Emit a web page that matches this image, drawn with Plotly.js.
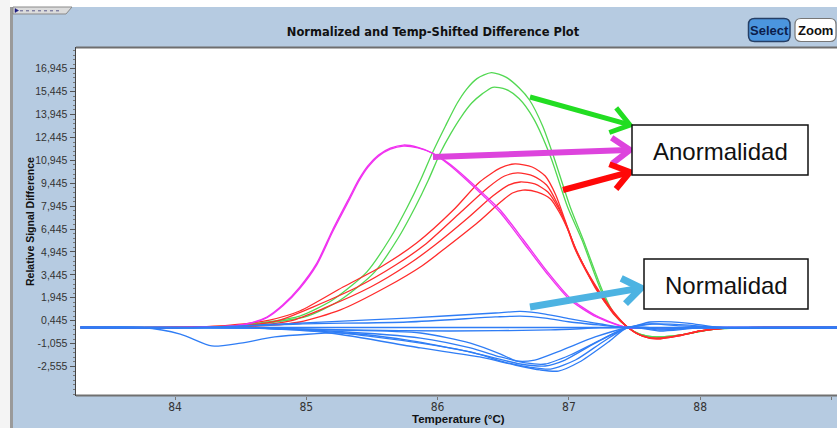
<!DOCTYPE html>
<html>
<head>
<meta charset="utf-8">
<script src="https://cdn.plot.ly/plotly-3.0.1.min.js"></script>
<style>html,body{margin:0;padding:0;background:#fff;}#chart{width:837px;height:428px;}</style>
</head>
<body>
<div id="chart"></div>
<script>
// ---- data (temperature °C, relative signal difference) ----
const greenT1 = [83.28,84.00,84.42,84.70,84.95,85.20,85.46,85.64,85.77,85.87,85.96,86.06,86.15,86.22,86.30,86.41,86.52,86.62,86.70,86.80,86.88,87.01,87.11,87.26,87.35,87.45,87.54,87.67,87.85,88.07,88.30,89.06];
const greenS1 = [0,0,0.10,0.36,0.75,1.80,3.63,5.86,7.89,9.66,11.43,13.20,14.70,15.60,16.30,16.69,16.40,15.70,14.90,13.20,11.30,7.89,5.73,2.32,0.82,0,-0.43,-0.62,-0.49,-0.16,-0.03,0];
const greenT2 = [83.28,84.00,84.50,84.76,85.01,85.26,85.52,85.70,85.83,85.93,86.02,86.10,86.18,86.26,86.34,86.42,86.52,86.62,86.73,86.86,86.99,87.10,87.25,87.35,87.45,87.54,87.67,87.85,88.07,88.30,89.06];
const greenS2 = [0,0,0.10,0.36,0.75,1.80,3.63,5.86,7.89,9.66,11.43,12.70,13.80,14.70,15.30,15.73,15.60,15.00,13.70,11.20,7.89,5.73,2.32,0.82,0,-0.43,-0.62,-0.49,-0.16,-0.03,0];

const magT = [83.28,84.00,84.44,84.57,84.70,84.82,84.95,85.08,85.20,85.33,85.40,85.47,85.55,85.64,85.74,85.85,85.96,86.09,86.22,86.35,86.48,86.65,86.83,87.01,87.21,87.44,87.69,88.00,89.06];
const magS1 = [0,0,0.10,0.29,0.69,1.47,2.65,4.22,6.39,8.55,9.70,10.60,11.30,11.75,11.95,11.80,11.43,10.64,9.66,8.61,7.50,5.60,3.57,1.80,0.69,0,-0.03,0,0];
const magS2 = [0,0,0.10,0.27,0.64,1.40,2.55,4.10,6.25,8.40,9.58,10.50,11.22,11.68,11.88,11.76,11.42,10.72,9.78,8.75,7.66,5.78,3.72,1.92,0.76,0,-0.03,0,0];

const redT1 = [83.28,84.00,84.42,84.72,84.95,85.28,85.58,85.84,86.12,86.32,86.48,86.59,86.72,86.82,86.90,86.97,87.04,87.13,87.21,87.34,87.45,87.54,87.66,87.81,88.00,88.23,89.06];
const redS1 = [0,0,0.16,0.49,1.08,2.65,4.03,5.53,7.69,9.53,10.45,10.71,10.51,9.92,8.68,7.04,5.40,3.77,2.46,0.95,0,-0.49,-0.69,-0.56,-0.23,-0.03,0];
const redT2 = [83.28,84.00,84.50,84.80,85.05,85.39,85.68,85.90,86.17,86.38,86.51,86.61,86.73,86.83,86.91,86.98,87.04,87.13,87.22,87.34,87.45,87.54,87.66,87.81,88.00,88.23,89.06];
const redS2 = [0,0,0.10,0.49,1.34,2.65,4.09,5.40,7.50,9.14,9.92,10.12,9.92,9.33,8.15,6.71,5.27,3.70,2.39,0.88,0,-0.49,-0.69,-0.56,-0.23,-0.03,0];
const redT3 = [83.28,84.00,84.57,84.88,85.14,85.49,85.77,85.98,86.23,86.42,86.54,86.63,86.74,86.84,86.92,86.99,87.05,87.14,87.23,87.35,87.45,87.56,87.67,87.83,88.00,88.23,89.06];
const redS3 = [0,0,0.10,0.43,1.28,2.65,4.09,5.40,7.17,8.61,9.33,9.53,9.40,8.87,7.83,6.52,5.14,3.63,2.32,0.88,0,-0.56,-0.75,-0.56,-0.23,-0.03,0];
const redT4 = [83.28,84.00,84.65,84.95,85.26,85.61,85.88,86.07,86.31,86.48,86.57,86.65,86.76,86.86,86.93,87.00,87.06,87.15,87.24,87.36,87.45,87.56,87.67,87.83,88.00,88.23,89.06];
const redS4 = [0,0,0.10,0.36,1.15,2.65,4.03,5.27,6.91,8.22,8.81,9.00,8.87,8.42,7.50,6.25,4.94,3.50,2.26,0.82,0,-0.56,-0.75,-0.56,-0.23,-0.03,0];

const blueFlatT = [83.28,85.00,87.45,89.06];
const blueFlatS = [0,0,0,0];
const blueUpT1 = [83.28,84.19,84.95,85.77,86.44,86.63,86.82,87.01,87.24,87.45,87.62,87.90,88.15,89.06];
const blueUpS1 = [0,0,0.29,0.62,0.95,1.05,0.88,0.56,0.23,0,0.36,0.29,0,0];
const blueUpT2 = [83.28,84.19,84.95,85.77,86.44,86.63,86.82,87.01,87.24,87.45,87.63,87.92,88.15,89.06];
const blueUpS2 = [0,0,0.23,0.36,0.69,0.75,0.62,0.36,0.16,0,0.23,0.16,0,0];
const blueMidT = [83.28,84.57,85.33,86.09,86.86,87.24,87.45,87.69,88.00,89.06];
const blueMidS = [0,-0.03,-0.16,-0.23,-0.16,-0.03,0,-0.10,-0.03,0];
const blueDipT = [83.28,83.75,84.04,84.28,84.50,84.76,85.27,85.77,86.17,86.44,86.63,86.82,86.97,87.20,87.45,87.66,88.00,89.06];
const blueDipS = [0,0,-0.43,-1.21,-1.02,-0.62,-0.36,-0.82,-1.47,-2.00,-2.39,-2.52,-2.13,-1.02,0,-0.03,0,0];
const blueLowT1 = [83.28,84.57,85.18,85.87,86.25,86.48,86.60,86.74,86.93,87.20,87.45,87.62,87.85,88.15,89.06];
const blueLowS1 = [0,-0.03,-0.16,-0.36,-1.02,-1.74,-2.19,-2.13,-1.54,-0.62,0,0.23,0.10,0,0];
const blueLowT2 = [83.28,84.57,85.18,85.87,86.25,86.48,86.67,86.82,87.01,87.24,87.45,87.66,88.00,89.06];
const blueLowS2 = [0,-0.03,-0.23,-0.69,-1.34,-1.93,-2.32,-2.39,-1.80,-0.82,0,-0.03,0,0];
const blueLowT3 = [83.28,84.57,85.18,85.87,86.25,86.51,86.70,86.86,87.05,87.27,87.45,87.69,88.00,89.06];
const blueLowS3 = [0,-0.03,-0.29,-1.02,-1.60,-2.26,-2.59,-2.72,-2.13,-0.88,0,-0.16,-0.03,0];
const blueLowT4 = [83.28,84.57,85.18,85.87,86.32,86.59,86.78,86.92,87.08,87.30,87.45,87.69,88.00,89.06];
const blueLowS4 = [0,-0.03,-0.36,-1.34,-1.93,-2.46,-2.78,-2.85,-2.26,-0.95,0,-0.23,-0.03,0];

const yTickVals = [-2.555,-1.055,0.445,1.945,3.445,4.945,6.445,7.945,9.445,10.945,12.445,13.945,15.445,16.945];
const yTickText = ["-2,555","-1,055","0,445","1,945","3,445","4,945","6,445","7,945","9,445","10,945","12,445","13,945","15,445","16,945"];
const xTickVals = [84,85,86,87,88,89];
const xTickText = ["84","85","86","87","88","89"];

// ---- styling ----
const GREEN = '#52D852', RED = '#FF2B2B', MAG = '#F030F0', BLUE = '#2F7DF5';
function tr(x, y, c){ return {x:x, y:y, type:'scatter', mode:'lines', line:{color:c, width:1.3, shape:'spline', smoothing:0.7}, hoverinfo:'skip', showlegend:false}; }
const traces = [
  tr(greenT1, greenS1, GREEN), tr(greenT2, greenS2, GREEN),
  tr(redT1, redS1, RED), tr(redT2, redS2, RED), tr(redT3, redS3, RED), tr(redT4, redS4, RED),
  tr(magT, magS1, MAG), tr(magT, magS2, MAG),
  tr(blueFlatT, blueFlatS, BLUE), tr(blueUpT1, blueUpS1, BLUE), tr(blueUpT2, blueUpS2, BLUE),
  tr(blueMidT, blueMidS, BLUE), tr(blueDipT, blueDipS, BLUE),
  tr(blueLowT1, blueLowS1, BLUE), tr(blueLowT2, blueLowS2, BLUE), tr(blueLowT3, blueLowS3, BLUE), tr(blueLowT4, blueLowS4, BLUE)
];

// pixel helpers for decorations (paper coordinates)
const ML = 76, MT = 47, PW = 761, PH = 349;
const px = v => (v - ML) / PW;
const py = v => (MT + PH - v) / PH;
const P = (x, y) => px(x).toFixed(5) + ',' + py(y).toFixed(5);

const shapes = [];
function rectPx(x0, y0, x1, y1, fill, lineColor, lw){
  shapes.push({type:'rect', xref:'paper', yref:'paper', x0:px(x0), x1:px(x1), y0:py(y1), y1:py(y0),
    fillcolor:fill, line:{color:lineColor, width:lw}, layer:'above'});
}
function linePx(x0, y0, x1, y1, color, w, dash){
  shapes.push({type:'line', xref:'paper', yref:'paper', x0:px(x0), y0:py(y0), x1:px(x1), y1:py(y1),
    line:{color:color, width:w, dash:dash||'solid'}, layer:'above'});
}
function pathPx(d, fill, color, w){
  shapes.push({type:'path', xref:'paper', yref:'paper', path:d, fillcolor:fill, line:{color:color, width:w}, layer:'above'});
}
function roundRect(x0, y0, x1, y1, r){
  return 'M ' + P(x0+r,y0) + ' L ' + P(x1-r,y0) + ' Q ' + P(x1,y0) + ' ' + P(x1,y0+r) +
    ' L ' + P(x1,y1-r) + ' Q ' + P(x1,y1) + ' ' + P(x1-r,y1) + ' L ' + P(x0+r,y1) +
    ' Q ' + P(x0,y1) + ' ' + P(x0,y1-r) + ' L ' + P(x0,y0+r) + ' Q ' + P(x0,y0) + ' ' + P(x0+r,y0) + ' Z';
}
function arrowPx(x1, y1, x2, y2, color, w){
  const ang = Math.atan2(y2-y1, x2-x1), len = 22, a = 0.62;
  linePx(x1, y1, x2 - 2*Math.cos(ang), y2 - 2*Math.sin(ang), color, w);
  const ax1 = x2 - len*Math.cos(ang - a), ay1 = y2 - len*Math.sin(ang - a);
  const ax2 = x2 - len*Math.cos(ang + a), ay2 = y2 - len*Math.sin(ang + a);
  pathPx('M ' + P(ax1,ay1) + ' L ' + P(x2,y2) + ' L ' + P(ax2,ay2), 'rgba(0,0,0,0)', color, w);
}

// window chrome
rectPx(0, 0, 837, 7, '#FFFFFF', 'rgba(0,0,0,0)', 0);
rectPx(0, 0, 10, 428, '#F4F4F4', 'rgba(0,0,0,0)', 0);
rectPx(10, 7, 13, 428, '#9A9A9A', 'rgba(0,0,0,0)', 0);
pathPx('M ' + P(13,7) + ' L ' + P(72,7) + ' L ' + P(66,14) + ' L ' + P(13,14) + ' Z', '#DCDCDC', '#8A8A8A', 1);
pathPx('M ' + P(15,8.5) + ' L ' + P(18.5,10.5) + ' L ' + P(15,12.5) + ' Z', '#1A1A80', '#1A1A80', 0.5);
linePx(20, 10.8, 62, 10.8, '#5A5A8A', 1, 'dot');
// plot frame
linePx(76, 47.5, 837, 47.5, '#6E6E6E', 2);
linePx(76, 395.5, 837, 395.5, '#707070', 2);
// buttons
pathPx(roundRect(748.5, 18.5, 790, 41.5, 6), '#4B95DE', '#253F66', 1.5);
pathPx(roundRect(795, 18.5, 836, 41.5, 6), '#FFFFFF', '#777777', 1.2);

// annotation arrows and boxes
arrowPx(530, 97, 630, 125, '#22DD22', 5);
arrowPx(433, 157, 630, 150, '#DD44DD', 6);
arrowPx(563, 190, 630, 172, '#FF0808', 6);
arrowPx(530, 307, 641, 288, '#4DB3E2', 7);
rectPx(632, 125, 808, 175, '#FFFFFF', '#111111', 1.5);
rectPx(644, 259, 808, 309, '#FFFFFF', '#111111', 1.5);

const FONT = 'Liberation Sans, Arial, sans-serif';
const annotations = [
  {xref:'paper', yref:'paper', x:px(720), y:py(151), text:'Anormalidad', showarrow:false, xanchor:'center', yanchor:'middle',
   font:{family:FONT, size:24, color:'#111'}},
  {xref:'paper', yref:'paper', x:px(726), y:py(285), text:'Normalidad', showarrow:false, xanchor:'center', yanchor:'middle',
   font:{family:FONT, size:24, color:'#111'}},
  {xref:'paper', yref:'paper', x:px(769.3), y:py(30.5), text:'Select', showarrow:false, xanchor:'center', yanchor:'middle',
   font:{family:FONT, size:13, weight:'bold', color:'#0B1D4A'}},
  {xref:'paper', yref:'paper', x:px(815.5), y:py(30.5), text:'Zoom', showarrow:false, xanchor:'center', yanchor:'middle',
   font:{family:FONT, size:13, weight:'bold', color:'#111'}},
  {xref:'paper', yref:'paper', x:px(458), y:py(419), text:'Temperature (°C)', showarrow:false, xanchor:'center', yanchor:'middle',
   font:{family:FONT, size:11.5, weight:'bold', color:'#111'}},
  {xref:'paper', yref:'paper', x:px(30), y:py(222), text:'Relative Signal Difference', textangle:-90, showarrow:false, xanchor:'center', yanchor:'middle',
   font:{family:FONT, size:10.5, weight:'bold', color:'#111'}}
];

const layout = {
  width:837, height:428,
  margin:{l:ML, r:0, t:MT, b:32, pad:0},
  paper_bgcolor:'#B6CBE1', plot_bgcolor:'#FFFFFF',
  title:{text:'Normalized and Temp-Shifted Difference Plot', x:433/837, xref:'container', xanchor:'center',
         y:1 - 32/428, yref:'container', yanchor:'middle',
         font:{family:'DejaVu Sans, Verdana, sans-serif', size:11.5, weight:'bold', color:'#111'}},
  showlegend:false,
  xaxis:{range:[83.246, 89.042], tickvals:xTickVals, ticktext:xTickText, ticks:'outside', ticklen:3, tickcolor:'#777',
         ticklabelstandoff:-3,
         showgrid:false, zeroline:false, showline:false, automargin:false,
         tickfont:{family:'Liberation Sans Narrow, DejaVu Sans Condensed, Arial Narrow, sans-serif', size:12, color:'#333'}},
  yaxis:{range:[-4.486, 18.37], tickvals:yTickVals, ticktext:yTickText, ticks:'outside', ticklen:5, tickcolor:'#555',
         minor:{tick0:0.445, dtick:0.3, ticks:'outside', ticklen:2, tickcolor:'#777'},
         showgrid:false, zeroline:false, showline:true, linecolor:'#444', linewidth:1.5, automargin:false,
         tickfont:{family:FONT, size:10.5, color:'#333'}},
  shapes:shapes,
  annotations:annotations
};

Plotly.newPlot('chart', traces, layout, {staticPlot:true, displayModeBar:false});
</script>
</body>
</html>
